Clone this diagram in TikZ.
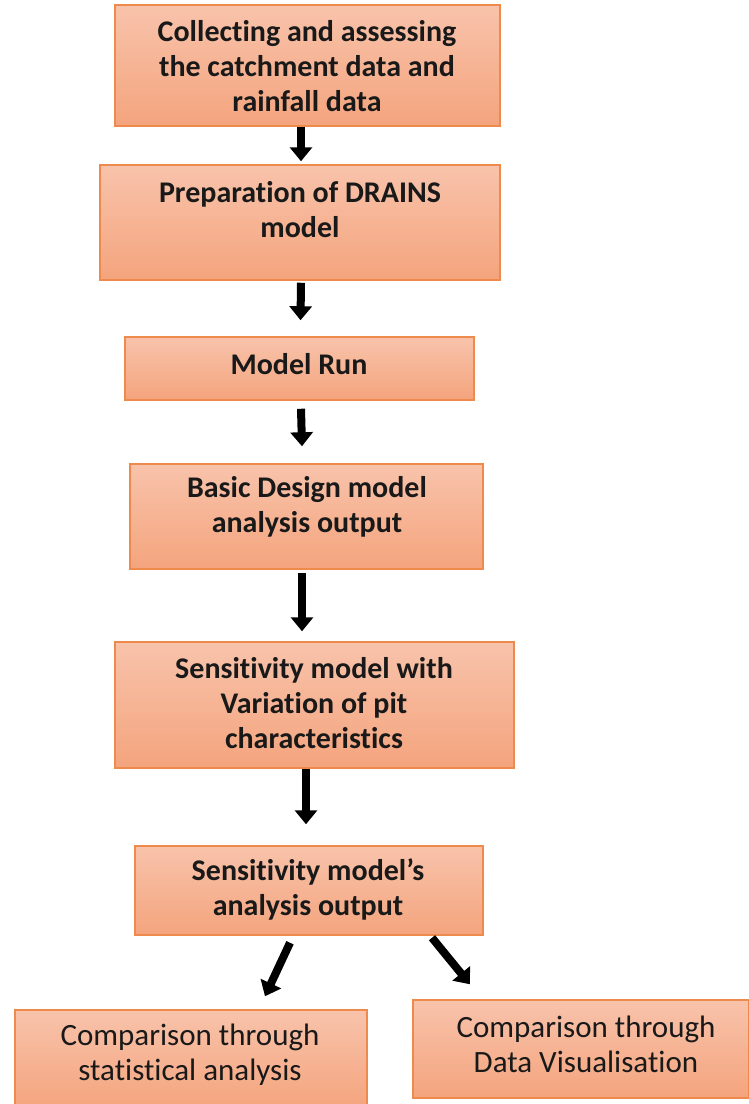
\documentclass[tikz,border=0pt]{standalone}
\usepackage{fontspec}
\setmainfont[Ligatures=NoCommon]{Carlito}
\usetikzlibrary{arrows.meta}
\definecolor{boxtop}{HTML}{F8C3AB}
\definecolor{boxbot}{HTML}{F4A47D}
\definecolor{boxline}{HTML}{EE8A4C}
\tikzset{
  box/.style={rectangle, draw=boxline, line width=1.5pt, top color=boxtop, bottom color=boxbot, inner sep=0pt},
  txt/.style={align=center, font=\fontsize{30}{35}\selectfont\bfseries, text=black!90},
  txtr/.style={align=center, font=\fontsize{31}{35}\selectfont, text=black!90},
  blockarrow/.style={line width=8pt, draw=black, -{Triangle[width=22pt,length=14pt]}}
}
\begin{document}
\begin{tikzpicture}[x=1pt,y=-1pt]
\useasboundingbox (0,0) rectangle (749,1104);
% boxes
\node[box, minimum width=385pt, minimum height=121pt] (b1) at (307.5,65.5) {};
\node[box, minimum width=400pt, minimum height=115pt] (b2) at (300,222.5) {};
\node[box, minimum width=349pt, minimum height=63pt] (b3) at (299.5,368.5) {};
\node[box, minimum width=353pt, minimum height=105pt] (b4) at (306.5,516.5) {};
\node[box, minimum width=399pt, minimum height=126pt] (b5) at (314.5,705) {};
\node[box, minimum width=348pt, minimum height=89pt] (b6) at (309,890.5) {};
\node[box, minimum width=352pt, minimum height=100pt] (b7) at (191,1060) {};
\node[box, minimum width=336pt, minimum height=98pt] (b8) at (581,1049) {};
% texts
\node[txt] (t1) at (307,66) {Collecting and assessing\\the catchment data and\\rainfall data};
\node[txt] (t2) at (300,210) {Preparation of DRAINS\\model};
\node[txt] (t3) at (299,364) {Model Run};
\node[txt] (t4) at (307,507) {Basic Design model\\analysis output};
\node[txt] (t5) at (314,703) {Sensitivity model with\\Variation of pit\\characteristics};
\node[txt] (t6) at (308,889) {Sensitivity model’s\\analysis output};
\node[txtr] (t7) at (190,1055) {Comparison through\\statistical analysis};
\node[txtr] (t8) at (586,1044) {Comparison through\\Data Visualisation};
% arrows
\draw[blockarrow] ([xshift=-6.5pt]b1.south) -- ([xshift=1pt,yshift=3pt]b2.north);
\draw[blockarrow] ([xshift=1pt,yshift=-2pt]b2.south) -- ([xshift=1pt,yshift=16pt]b3.north);
\draw[blockarrow] ([xshift=1.5pt,yshift=-8pt]b3.south) -- ([xshift=-4.5pt,yshift=17pt]b4.north);
\draw[blockarrow] ([xshift=-4.5pt,yshift=-3pt]b4.south) -- ([xshift=-12.5pt,yshift=10pt]b5.north);
\draw[blockarrow] ([xshift=-8.5pt]b5.south) -- ([xshift=-3pt,yshift=21pt]b6.north);
\draw[blockarrow] ([xshift=-19pt,yshift=-7pt]b6.south) -- ([xshift=74pt,yshift=13pt]b7.north);
\draw[blockarrow] ([xshift=123pt,yshift=-2pt]b6.south) -- ([xshift=-111pt,yshift=15pt]b8.north);
\end{tikzpicture}
\end{document}
